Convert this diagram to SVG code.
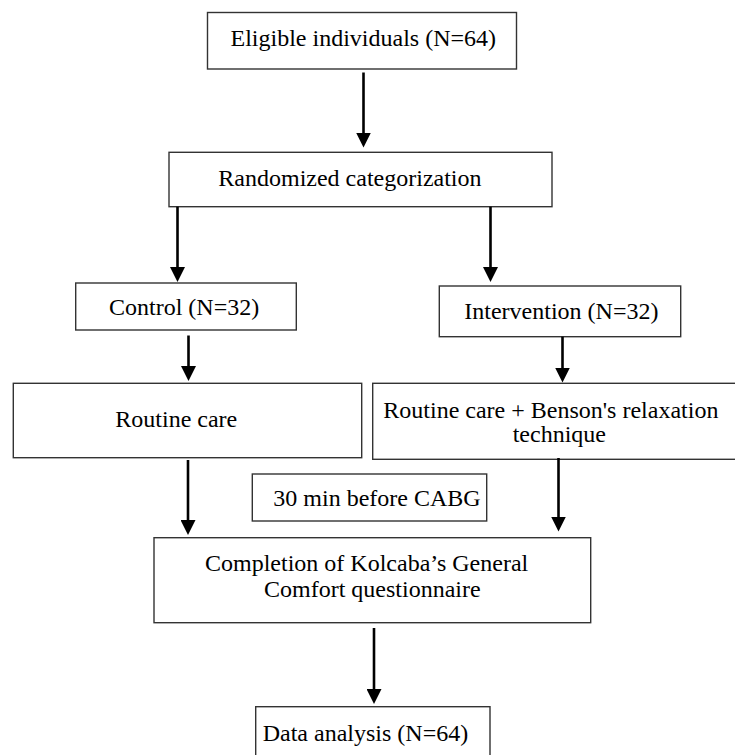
<svg xmlns="http://www.w3.org/2000/svg" width="735" height="755" viewBox="0 0 735 755">
<defs>
<style>
.box{fill:#fff;stroke:#333;stroke-width:1.4}
.t{font-family:"Liberation Serif","Times New Roman",serif;font-size:24px;fill:#000}
.c{stroke:#000;stroke-width:2.6;fill:none;marker-end:url(#ah)}
</style>
<marker id="ah" viewBox="0 0 15 15" markerWidth="15" markerHeight="15" refX="5" refY="7.5" orient="auto" markerUnits="userSpaceOnUse">
<path d="M0,0 L15,7.5 L0,15 z" fill="#000"/>
</marker>
</defs>
<rect width="735" height="755" fill="#fff"/>
<g id="eligible"><rect class="box" x="207.5" y="12.5" width="309" height="56.5"/><text class="t" x="230.5" y="45.5">Eligible individuals (N=64)</text></g>
<g id="randomized"><rect class="box" x="169" y="152.3" width="383" height="54.4"/><text class="t" x="218.3" y="185.5">Randomized categorization</text></g>
<g id="control"><rect class="box" x="75.7" y="283" width="220.6" height="47"/><text class="t" x="109" y="315">Control (N=32)</text></g>
<g id="intervention"><rect class="box" x="439.3" y="286" width="241.4" height="50.7"/><text class="t" x="464.3" y="318.5">Intervention (N=32)</text></g>
<g id="routine"><rect class="box" x="13.3" y="383.3" width="348.4" height="74.4"/><text class="t" x="115.3" y="427">Routine care</text></g>
<g id="benson"><rect class="box" x="372.7" y="383.3" width="366" height="76"/><text class="t" x="383.3" y="417.5">Routine care + Benson's relaxation</text><text class="t" x="512.7" y="442">technique</text></g>
<g id="timing"><rect class="box" x="252.3" y="474" width="234.4" height="47"/><text class="t" x="273.3" y="505.5">30 min before CABG</text></g>
<g id="completion"><rect class="box" x="154" y="537.7" width="436.7" height="85"/><text class="t" x="205" y="570.5">Completion of Kolcaba’s General</text><text class="t" x="264" y="597">Comfort questionnaire</text></g>
<g id="analysis"><rect class="box" x="255.7" y="706.7" width="234.3" height="60"/><text class="t" x="262.7" y="740.5">Data analysis (N=64)</text></g>
<g id="connectors">
<line class="c" x1="363.5" y1="72.5" x2="363.5" y2="137.5"/>
<line class="c" x1="177.5" y1="206.7" x2="177.5" y2="272"/>
<line class="c" x1="490.5" y1="206.7" x2="490.5" y2="272"/>
<line class="c" x1="188.5" y1="335.5" x2="188.5" y2="371"/>
<line class="c" x1="562.5" y1="336.7" x2="562.5" y2="372.5"/>
<line class="c" x1="188" y1="460" x2="188" y2="525"/>
<line class="c" x1="558.5" y1="458" x2="558.5" y2="521.5"/>
<line class="c" x1="374" y1="628" x2="374" y2="694"/>
</g>
</svg>
